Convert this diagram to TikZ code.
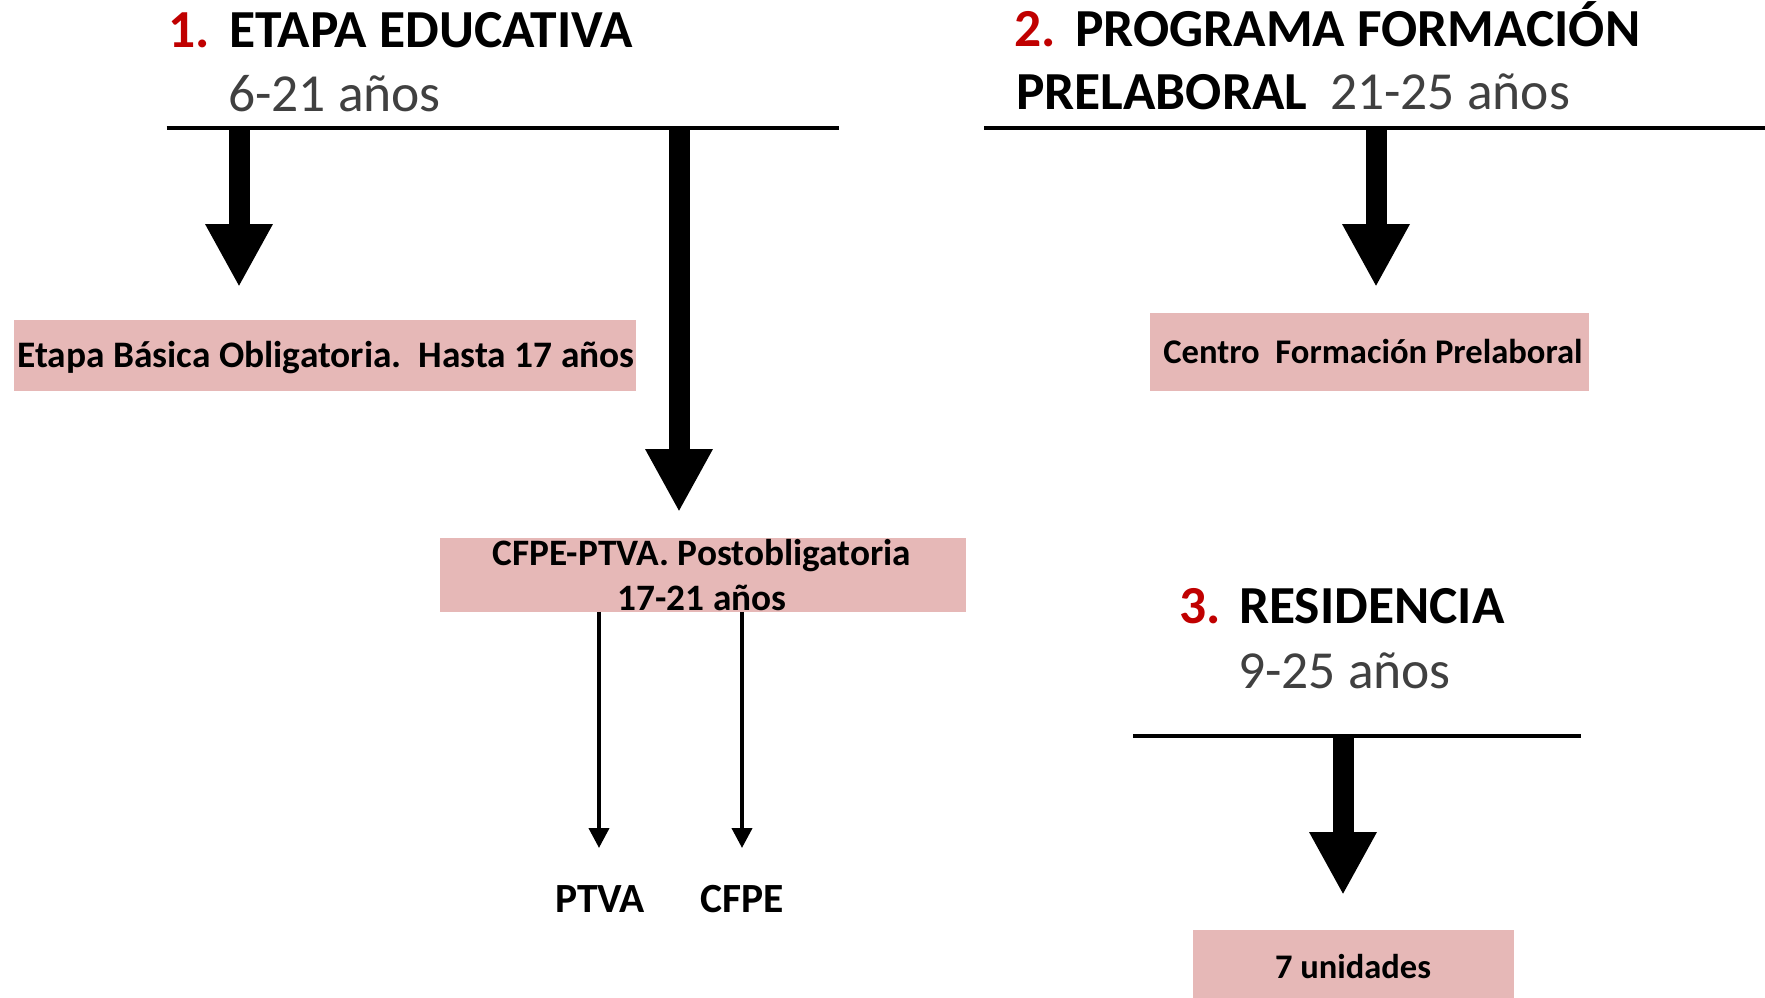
\documentclass[tikz,border=0pt]{standalone}
\usepackage{fontspec}
\setmainfont{Carlito}
\usetikzlibrary{arrows.meta}
\definecolor{numred}{HTML}{C00000}
\definecolor{boxpink}{HTML}{E6B8B7}
\definecolor{subgray}{HTML}{404040}
\tikzset{
  heading/.style={anchor=base west, inner sep=0pt, font=\fontsize{53.5}{60}\selectfont\bfseries},
  numlabel/.style={heading, text=numred},
  agelabel/.style={anchor=base west, inner sep=0pt, font=\fontsize{53.5}{60}\selectfont, text=subgray},
  bar/.style={line width=4pt},
  bigarrow/.style={line width=21pt, -{Triangle[width=63pt,length=63pt]}},
  thinarrow/.style={line width=4pt, -{Triangle[width=20pt,length=20pt]}},
  pinkbox/.style={fill=boxpink, draw=none, inner sep=0pt},
  boxtext/.style={anchor=base, inner sep=0pt, font=\bfseries},
}
\begin{document}
\begin{tikzpicture}[x=1pt,y=-1pt]
\fill[white] (0,0) rectangle (1765,998);
\useasboundingbox (0,0) rectangle (1765,998);

% ---------- Section 1 ----------
\node[numlabel] (n1) at (168,48) {1.};
\node[heading] (h1) at (229,48) {ETAPA EDUCATIVA};
\node[agelabel] (a1) at (228,111) {6-21 años};
\coordinate (l1a) at (166.5,128);
\coordinate (l1b) at (839,128);
\draw[bar] (l1a) -- (l1b);

\node[pinkbox, minimum width=621.6pt, minimum height=70.7pt] (b1) at (325.2,355.4) {};
\node[boxtext, font=\fontsize{37.4}{44}\selectfont\bfseries] (t1) at (326,367) {Etapa Básica Obligatoria.\ \ Hasta 17 años};

\coordinate (s1) at (239,128);
\coordinate (e1) at (239,287);
\draw[bigarrow] (s1) -- (e1);

\node[pinkbox, minimum width=526.5pt, minimum height=74pt] (b2) at (703.2,574.7) {};
\node[boxtext, font=\fontsize{37.3}{44}\selectfont\bfseries] (t2a) at (702,565) {CFPE-PTVA. Postobligatoria};
\node[boxtext, font=\fontsize{37.3}{44}\selectfont\bfseries] (t2b) at (702,610) {17-21 años};

\coordinate (s2) at (679,128);
\coordinate (e2) at (679,512);
\draw[bigarrow] (s2) -- (e2);

\node[boxtext, font=\fontsize{41.5}{46}\selectfont\bfseries] (ptva) at (600,912.7) {PTVA};
\node[boxtext, font=\fontsize{41.5}{46}\selectfont\bfseries] (cfpe) at (742,912.7) {CFPE};
\coordinate (tipA) at (599,848);
\coordinate (tipB) at (742,848);
\draw[thinarrow] (tipA |- b2.south) -- (tipA);
\draw[thinarrow] (tipB |- b2.south) -- (tipB);

% ---------- Section 2 ----------
\node[numlabel] (n2) at (1014,47) {2.};
\node[heading] (h2) at (1075,47) {PROGRAMA FORMACIÓN};
\node[heading] (h2b) at (1016,110) {PRELABORAL};
\node[agelabel] (a2) at (1330,110) {21-25 años};
\coordinate (l2a) at (984,128);
\coordinate (l2b) at (1765,128);
\draw[bar] (l2a) -- (l2b);
\coordinate (s3) at (1376,128);
\coordinate (e3) at (1376,287);
\draw[bigarrow] (s3) -- (e3);
\node[pinkbox, minimum width=439pt, minimum height=77.4pt] (b3) at (1369.5,352) {};
\node[boxtext, font=\fontsize{34.6}{40}\selectfont\bfseries] (t3) at (1373,363) {Centro\ \ Formación Prelaboral};

% ---------- Section 3 ----------
\node[numlabel] (n3) at (1179,623) {3.};
\node[heading] (h3) at (1239,623) {RESIDENCIA};
\node[agelabel] (a3) at (1238,688) {9-25 años};
\coordinate (l3a) at (1133,736);
\coordinate (l3b) at (1581,736);
\draw[bar] (l3a) -- (l3b);
\coordinate (s4) at (1343,736);
\coordinate (e4) at (1343,895);
\draw[bigarrow] (s4) -- (e4);
\node[pinkbox, minimum width=321pt, minimum height=68pt] (b4) at (1353.5,964) {};
\node[boxtext, font=\fontsize{34.5}{40}\selectfont\bfseries] (t4) at (1353,978) {7 unidades};
\end{tikzpicture}
\end{document}
